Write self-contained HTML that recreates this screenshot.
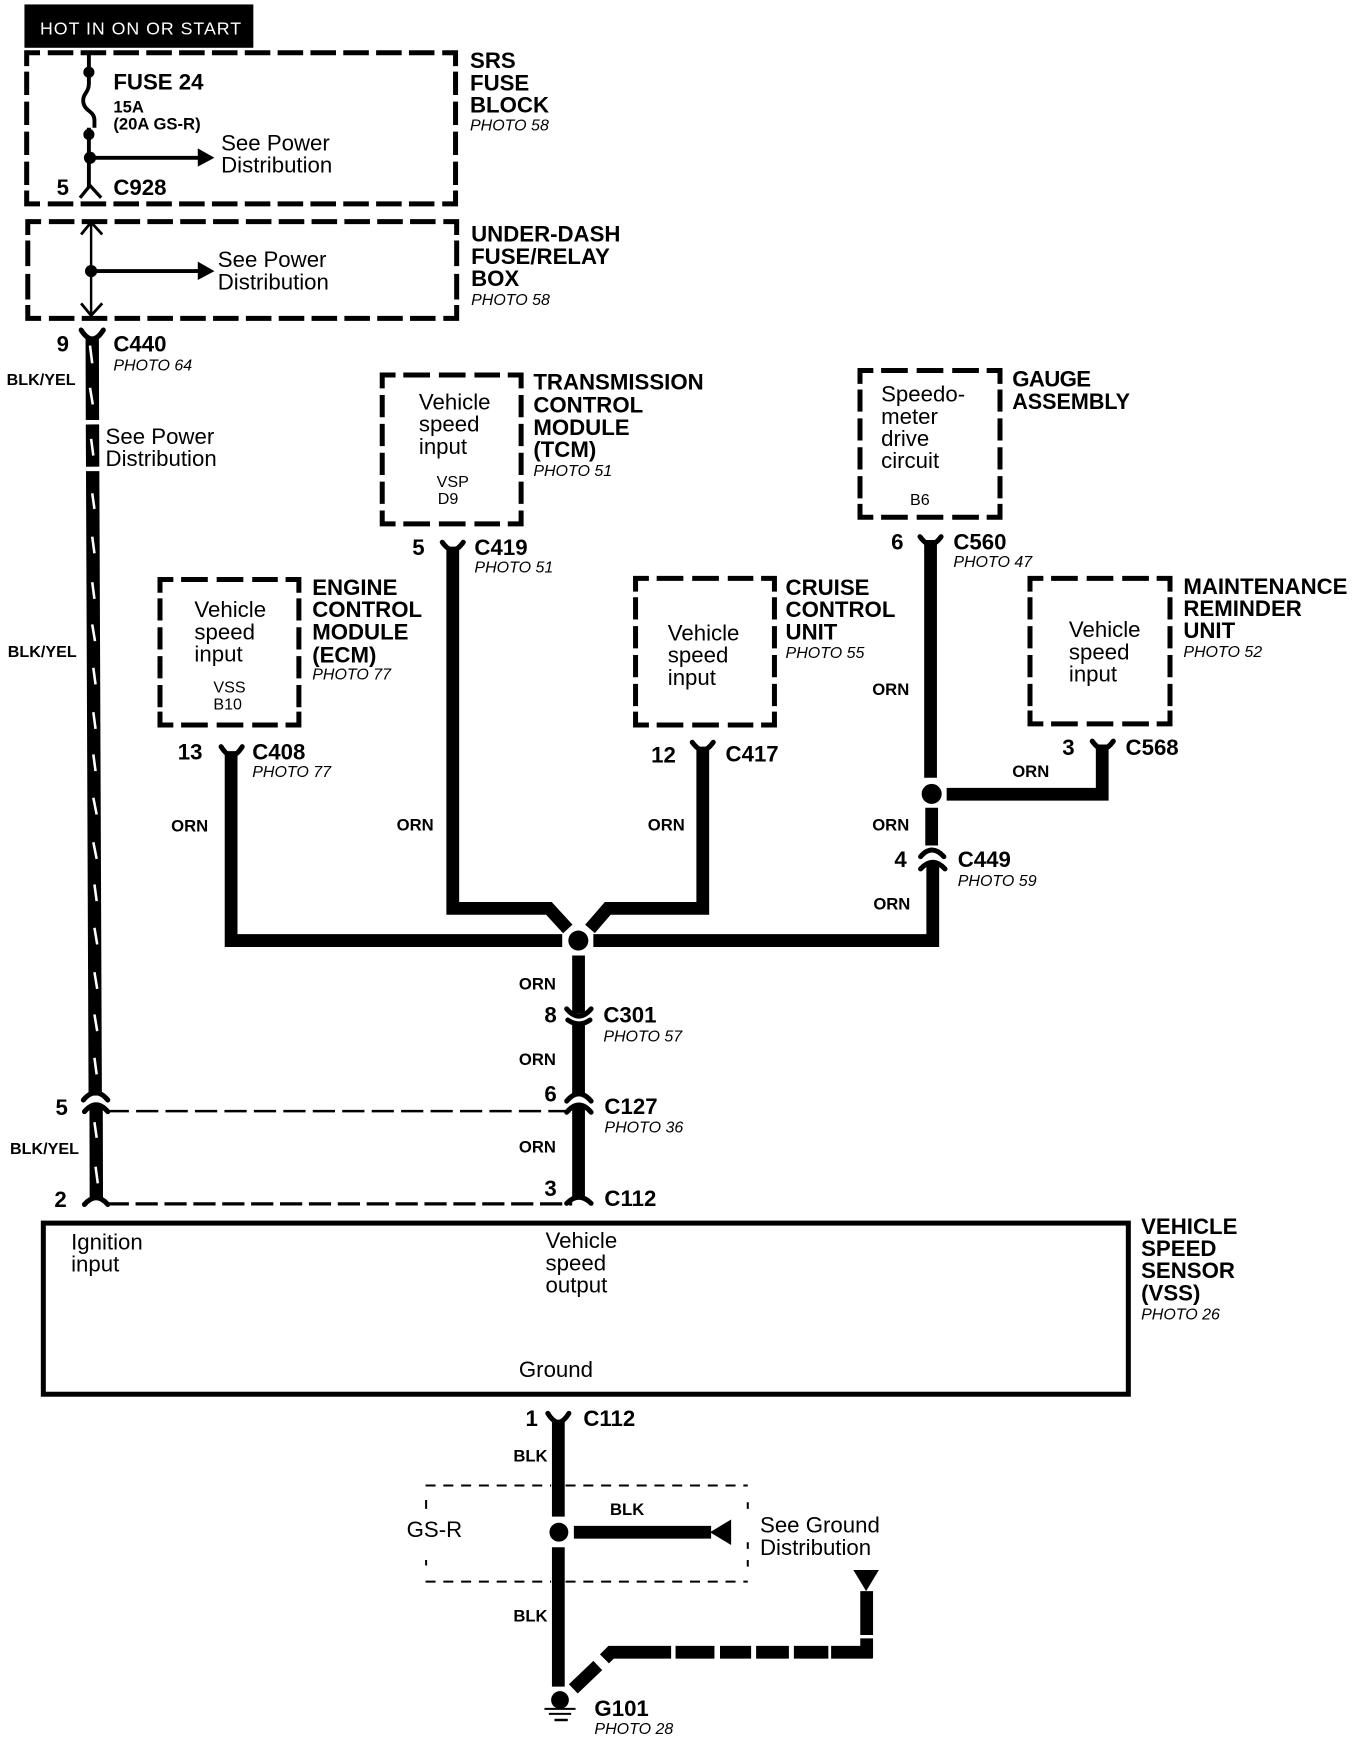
<!DOCTYPE html>
<html><head><meta charset="utf-8"><style>
html,body{margin:0;padding:0;background:#fff}
svg{display:block;width:1360px;height:1740px}
text{font-family:"Liberation Sans",sans-serif;fill:#000}
.b{font-weight:700;font-size:20px}
.s{font-weight:700;font-size:15px}
.r{font-size:20px}
.p{font-style:italic;font-size:14.4px}
.m{font-size:14.5px}
.bc,.bd,.be{fill:none;stroke:#000;stroke-width:4.5}
.bd{stroke-dasharray:24 8}
.be{stroke-dasharray:20 6}
.w{fill:none;stroke:#000;stroke-width:11.5}
.c{fill:none;stroke:#000;stroke-width:4.5;stroke-linecap:round}
.t{fill:none;stroke:#fff;stroke-width:2.3}
</style></head><body>
<svg viewBox="0 0 1224 1566" xmlns="http://www.w3.org/2000/svg">
<rect x="0" y="0" width="1224" height="1566" fill="#fff"/>
<rect x="22" y="4" width="206" height="39" fill="#000"/>
<text x="36" y="31" font-size="16" textLength="181" lengthAdjust="spacing" style="fill:#fff">HOT IN ON OR START</text>

<!-- boxes -->
<g transform="translate(-1,-0.5)">
<path class="bc" d="M25 60V48H37M399 48H411V60M411 172V184H399M37 184H25V172"/>
<path class="bc" style="stroke-dasharray:23 6.55" d="M44 48H392M44 184H392"/>
<path class="bc" style="stroke-dasharray:21 6" d="M25 65V167M411 65V167"/>
<path class="bc" d="M26 212V200H38M400 200H412V212M412 275V287H400M38 287H26V275"/>
<path class="bc" style="stroke-dasharray:23 6.55" d="M45 200H393M45 287H393"/>
<path class="bc" style="stroke-dasharray:23 7" d="M26 217V270M412 217V270"/>

<path class="bc" d="M345 350V338H357M458 338H470V350M470 460V472H458M357 472H345V460"/>
<path class="bd" d="M364 338H451M364 472H451"/>
<path class="be" d="M345 356V454M470 356V454"/>

<path class="bc" d="M775 346V334H787M889 334H901V346M901 454V466H889M787 466H775V454"/>
<path class="bd" d="M794 334H882M794 466H882"/>
<path class="be" d="M775 351V449M901 351V449"/>

<path class="bc" d="M145 534V522H157M258 522H270V534M270 641V653H258M157 653H145V641"/>
<path class="bd" d="M164 522H251M164 653H251"/>
<path class="be" d="M145 539V637M270 539V637"/>

<path class="bc" d="M573 533V521H585M686 521H698V533M698 641V653H686M585 653H573V641"/>
<path class="bd" d="M592 521H679M592 653H679"/>
<path class="be" d="M573 538V636M698 538V636"/>

<path class="bc" d="M928 533V521H940M1042 521H1054V533M1054 640V652H1042M940 652H928V640"/>
<path class="bd" d="M947 521H1035M947 652H1035"/>
<path class="be" d="M928 538V636M1054 538V636"/>
</g>
<rect x="39" y="1100.800" width="976.500" height="154" fill="none" stroke="#000" stroke-width="4.5"/>

<!-- SRS fuse -->
<path d="M80 47V75C80 84 74 84 75 92C76 100 85 100 85 108V115M80 115V168" fill="none" stroke="#000" stroke-width="3.5"/>
<circle cx="80" cy="65" r="5"/><circle cx="80" cy="121" r="5"/><circle cx="81" cy="142" r="5.5"/>
<path d="M81 142H180" stroke="#000" stroke-width="3.5"/><path d="M178 133.5L193 142L178 150Z"/>
<path d="M72 178L81 167L91 178" fill="none" stroke="#000" stroke-width="3"/>
<!-- under dash -->
<path d="M82 201V283" stroke="#000" stroke-width="2.2"/>
<path d="M73 211L82 200L92 211M73 273L82 284L92 273" fill="none" stroke="#000" stroke-width="2.5"/>
<circle cx="82" cy="244" r="5.5"/>
<path d="M82 244H180" stroke="#000" stroke-width="3.5"/><path d="M178 235.500L193 244L178 252Z"/>

<!-- main left wire -->
<path d="M83 303L83.200 378M83.200 382L83.400 420M83.400 424L85.700 986M86.500 996L86.700 1078" class="w" style="stroke-width:12"/>
<path class="c" d="M73 297Q78 305 83 305Q88 305 93 297"/>
<path class="c" d="M75 990Q86 977 97 990M76 1000.500Q86.500 988 97 1000.500"/>
<path class="c" d="M76 1084Q86.500 1072 97 1084"/>
<path class="t" d="M81 311l2 16M81 349l2.500 15M82 395l2 15M83 444l2 14M83 483l2 15M83 524l2 15M83 562l2.500 15M84 601l2 15M84 641l2 15M84 679l2 15M84 718l3 15M84 758l3 15M85 796l2 15M85 835l2.500 15M85 875l2.500 15M85 913l2.500 15M85 952l2 15M85 1010l2 14M86 1050l2 15"/>
<path d="M96 1000H515" stroke="#000" stroke-width="2.2" stroke-dasharray="20 6.500" fill="none"/>
<path d="M96 1083.500H515" stroke="#000" stroke-width="3" stroke-dasharray="20 6" fill="none"/>

<!-- orange network -->
<path class="w" d="M208 676V846.500H506"/>
<path class="w" d="M407.500 492V817.500H494L511 836"/>
<path class="w" d="M632.500 672V817.500H547L531 836"/>
<path class="w" d="M534 846.500H839.500V776"/>
<path class="w" d="M837.500 486V700"/>
<path class="w" d="M852 714.800H992V670"/>
<path class="w" d="M838.500 727V761"/>
<path class="w" d="M520.700 860V912M520.700 921V985M520.700 995V1078"/>
<circle cx="520.500" cy="846.500" r="9"/><circle cx="838.500" cy="714.500" r="9"/>
<path class="c" d="M398 488Q403 495 407.500 495Q412 495 417 488"/>
<path class="c" d="M199 672Q204 680 208.500 680Q213 680 218 672"/>
<path class="c" d="M623 668Q628 675 632.500 675Q637 675 642 668"/>
<path class="c" d="M828 483Q833 490 837.500 490Q842 490 847 483"/>
<path class="c" d="M983 667Q988 674 992.500 674Q997 674 1002 667"/>
<path class="c" d="M828.500 771Q838.500 759 849.500 771M828.500 782Q839.500 770 850.500 782"/>
<path class="c" d="M510 908Q521 921 532 908M511 918Q521 925 531 918"/>
<path class="c" d="M510 991Q521 978 532 991M510 1001Q521 988 532 1001"/>
<path class="c" d="M510 1083Q521 1072 532 1083"/>

<!-- ground -->
<path class="c" d="M493 1272Q498 1280 502.500 1280Q507 1280 512 1272"/>
<path class="w" d="M502.500 1278V1365M502.500 1392.500V1518"/>
<circle cx="503" cy="1379" r="8.500"/>
<path class="w" d="M516.500 1379H640"/>
<path d="M639 1379L658 1367.500V1390.500Z"/>
<path d="M768 1413H791L779.500 1432Z"/>
<path class="w" d="M780 1432V1471.500M780 1474.500V1492.500"/>
<path class="w" d="M785 1487H748M745.500 1487H714.500M710 1487H680.500M676 1487H648M643 1487H608M604 1487H550L544 1493M538 1499L516 1520"/>
<circle cx="504" cy="1530" r="8"/>
<path d="M490 1538H518M494 1542.500H514" stroke="#000" stroke-width="1.800"/>
<path d="M499 1548H511" stroke="#000" stroke-width="2.200"/>
<path d="M383 1337H496M509 1337H673M383 1423.500H496M509 1423.500H673" fill="none" stroke="#000" stroke-width="1.800" stroke-dasharray="9 7"/>
<path d="M383.500 1350V1358M383.500 1404V1409M673 1352V1358M673 1388V1394M673 1404V1410" fill="none" stroke="#000" stroke-width="1.800"/>

<!-- labels -->
<g transform="translate(-1,-0.6)">
<text class="b" x="103" y="81">FUSE 24</text>
<text class="s" x="103" y="102">15A</text>
<text class="s" x="103" y="117">(20A GS-R)</text>
<text class="r" x="200" y="136">See Power</text>
<text class="r" x="200" y="156">Distribution</text>
<text class="b" x="52" y="176">5</text>
<text class="b" x="103" y="176">C928</text>
<text class="b" x="424" y="62">SRS</text>
<text class="b" x="424" y="82">FUSE</text>
<text class="b" x="424" y="102">BLOCK</text>
<text class="p" x="424" y="118">PHOTO 58</text>
<text class="b" x="425" y="218">UNDER-DASH</text>
<text class="b" x="425" y="238">FUSE/RELAY</text>
<text class="b" x="425" y="258">BOX</text>
<text class="p" x="425" y="275">PHOTO 58</text>
<text class="r" x="197" y="241">See Power</text>
<text class="r" x="197" y="261">Distribution</text>
<text class="b" x="52" y="317">9</text>
<text class="b" x="103" y="317">C440</text>
<text class="p" x="103" y="334">PHOTO 64</text>
<text class="m" x="7" y="347" font-weight="700">BLK/YEL</text>
<text class="r" x="96" y="400">See Power</text>
<text class="r" x="96" y="420">Distribution</text>
<text class="m" x="8" y="592" font-weight="700">BLK/YEL</text>
<text class="m" x="10" y="1039" font-weight="700">BLK/YEL</text>
<text class="b" x="481" y="351">TRANSMISSION</text>
<text class="b" x="481" y="372">CONTROL</text>
<text class="b" x="481" y="392">MODULE</text>
<text class="b" x="481" y="412">(TCM)</text>
<text class="p" x="481" y="429">PHOTO 51</text>
<text class="r" x="378" y="369">Vehicle</text>
<text class="r" x="378" y="389">speed</text>
<text class="r" x="378" y="409">input</text>
<text x="394" y="439" font-size="14.500">VSP</text>
<text x="395" y="454" font-size="14.500">D9</text>
<text class="b" x="372" y="500">5</text>
<text class="b" x="428" y="500">C419</text>
<text class="p" x="428" y="516">PHOTO 51</text>
<text class="b" x="282" y="536">ENGINE</text>
<text class="b" x="282" y="556">CONTROL</text>
<text class="b" x="282" y="576">MODULE</text>
<text class="b" x="282" y="597">(ECM)</text>
<text class="p" x="282" y="612">PHOTO 77</text>
<text class="r" x="176" y="556">Vehicle</text>
<text class="r" x="176" y="576">speed</text>
<text class="r" x="176" y="596">input</text>
<text x="193" y="624" font-size="14.500">VSS</text>
<text x="193" y="639" font-size="14.500">B10</text>
<text class="b" x="161" y="684">13</text>
<text class="b" x="228" y="684">C408</text>
<text class="p" x="228" y="700">PHOTO 77</text>
<text class="s" x="155" y="749">ORN</text>
<text class="s" x="358" y="748">ORN</text>
<text class="b" x="708" y="536">CRUISE</text>
<text class="b" x="708" y="556">CONTROL</text>
<text class="b" x="708" y="576">UNIT</text>
<text class="p" x="708" y="593">PHOTO 55</text>
<text class="r" x="602" y="577">Vehicle</text>
<text class="r" x="602" y="597">speed</text>
<text class="r" x="602" y="617">input</text>
<text class="b" x="587" y="687">12</text>
<text class="b" x="654" y="686">C417</text>
<text class="s" x="584" y="748">ORN</text>
<text class="b" x="912" y="348.500" textLength="71">GAUGE</text>
<text class="b" x="912" y="368.500" textLength="106" lengthAdjust="spacingAndGlyphs">ASSEMBLY</text>
<text class="r" x="794" y="362">Speedo-</text>
<text class="r" x="794" y="382">meter</text>
<text class="r" x="794" y="402">drive</text>
<text class="r" x="794" y="422">circuit</text>
<text x="820" y="455" font-size="14.500">B6</text>
<text class="b" x="803" y="495">6</text>
<text class="b" x="859" y="495">C560</text>
<text class="p" x="859" y="511">PHOTO 47</text>
<text class="s" x="786" y="626">ORN</text>
<text class="b" x="1066" y="535">MAINTENANCE</text>
<text class="b" x="1066" y="555">REMINDER</text>
<text class="b" x="1066" y="575">UNIT</text>
<text class="p" x="1066" y="592">PHOTO 52</text>
<text class="r" x="963" y="574">Vehicle</text>
<text class="r" x="963" y="594">speed</text>
<text class="r" x="963" y="614">input</text>
<text class="b" x="957" y="680">3</text>
<text class="b" x="1014" y="680">C568</text>
<text class="s" x="912" y="700">ORN</text>
<text class="s" x="786" y="748">ORN</text>
<text class="b" x="806" y="781">4</text>
<text class="b" x="863" y="781">C449</text>
<text class="p" x="863" y="798">PHOTO 59</text>
<text class="s" x="787" y="819">ORN</text>
<text class="s" x="468" y="891">ORN</text>
<text class="b" x="491" y="921">8</text>
<text class="b" x="544" y="921">C301</text>
<text class="p" x="544" y="938">PHOTO 57</text>
<text class="s" x="468" y="959">ORN</text>
<text class="b" x="491" y="992">6</text>
<text class="b" x="545" y="1003">C127</text>
<text class="p" x="545" y="1020">PHOTO 36</text>
<text class="s" x="468" y="1038">ORN</text>
<text class="b" x="491" y="1077">3</text>
<text class="b" x="545" y="1086">C112</text>
<text class="b" x="51" y="1004">5</text>
<text class="b" x="50" y="1087">2</text>
<text class="b" x="1028" y="1111">VEHICLE</text>
<text class="b" x="1028" y="1131">SPEED</text>
<text class="b" x="1028" y="1151">SENSOR</text>
<text class="b" x="1028" y="1171">(VSS)</text>
<text class="p" x="1028" y="1188">PHOTO 26</text>
<text class="r" x="65" y="1125">Ignition</text>
<text class="r" x="65" y="1145">input</text>
<text class="r" x="492" y="1124">Vehicle</text>
<text class="r" x="492" y="1144">speed</text>
<text class="r" x="492" y="1164">output</text>
<text class="r" x="468" y="1240">Ground</text>
<text class="b" x="474" y="1284">1</text>
<text class="b" x="526" y="1284">C112</text>
<text class="s" x="463" y="1316">BLK</text>
<text class="s" x="550" y="1364">BLK</text>
<text class="r" x="367" y="1384">GS-R</text>
<text class="r" x="685" y="1380">See Ground</text>
<text class="r" x="685" y="1400">Distribution</text>
<text class="s" x="463" y="1460">BLK</text>
<text class="b" x="536" y="1545">G101</text>
<text class="p" x="536" y="1561">PHOTO 28</text>
</g>
</svg>
</body></html>
